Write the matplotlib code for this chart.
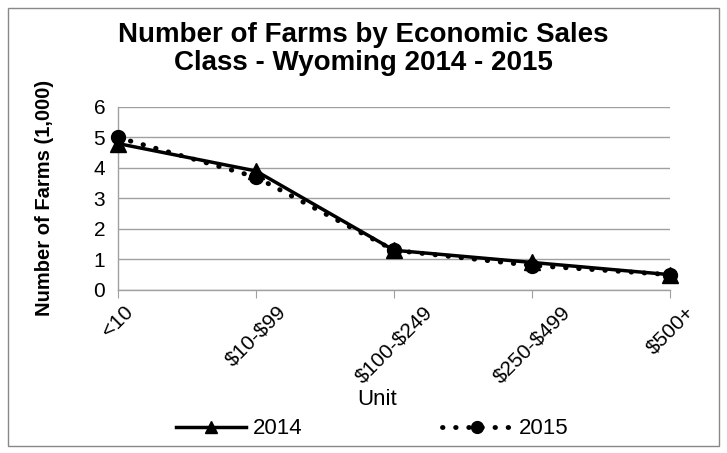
import matplotlib.pyplot as plt
from matplotlib.patches import Rectangle

# data (farms in 1,000)
categories = ['<10', r'\$10-\$99', r'\$100-\$249', r'\$250-\$499', r'\$500+']
farms_2014 = [4.8, 3.9, 1.3, 0.9, 0.5]
farms_2015 = [5.0, 3.7, 1.3, 0.8, 0.5]
years = ['2014', '2015']
title_lines = ['Number of Farms by Economic Sales', 'Class - Wyoming 2014 - 2015']

plt.rcParams['font.family'] = ['Liberation Sans', 'DejaVu Sans']

fig = plt.figure(figsize=(7.27, 4.53), dpi=100)
ax = fig.add_axes([0.162, 0.36, 0.76, 0.404])

x = list(range(len(categories)))
ax.plot(x, farms_2014, color='black', lw=2.5, marker='^', ms=11, label=years[0],
        clip_on=False, zorder=3)
ax.plot(x, farms_2015, color='black', lw=3.5, ls=(0, (0.1, 2.6)), dash_capstyle='round',
        marker='o', ms=10, label=years[1], clip_on=False, zorder=3)

ax.set_xlim(0, len(categories) - 1)
ax.set_ylim(0, 6)
ax.set_yticks(range(0, 7))
ax.set_xticks(x)
ax.set_xticklabels(categories, rotation=45, ha='center', va='top', fontsize=15)
ax.tick_params(axis='y', length=0, labelsize=15, pad=9)
ax.tick_params(axis='x', length=6, color='#a0a0a0', pad=3)
ax.grid(axis='y', color='#a0a0a0', lw=1)
ax.set_axisbelow(True)
for s in ['top', 'right']:
    ax.spines[s].set_visible(False)
for s in ['left', 'bottom']:
    ax.spines[s].set_color('#a0a0a0')
    ax.spines[s].set_linewidth(1)

# title, two lines centred on the figure
fig.text(0.5, 1 - 42 / 453, title_lines[0], ha='center', va='baseline',
         fontsize=20, fontweight='bold')
fig.text(0.5, 1 - 70 / 453, title_lines[1], ha='center', va='baseline',
         fontsize=20, fontweight='bold')

ax.set_ylabel('Number of Farms (1,000)', fontsize=14.5, fontweight='bold')
ax.yaxis.set_label_coords(-0.115, 0.5)
ax.set_xlabel('Unit', fontsize=16, va='center')
ax.xaxis.set_label_coords(0.469, -0.60)

fig.legend(loc='center', bbox_to_anchor=(0.512, 0.053), ncol=2, frameon=False,
           fontsize=16, handlelength=3.15, columnspacing=6.3, handletextpad=0.3,
           markerscale=0.85)

# outer chart border
fig.patches.append(Rectangle((0.011, 0.015), 0.978, 0.967, transform=fig.transFigure,
                             fill=False, edgecolor='#888888', lw=1))

plt.savefig('out.png', dpi=100)
